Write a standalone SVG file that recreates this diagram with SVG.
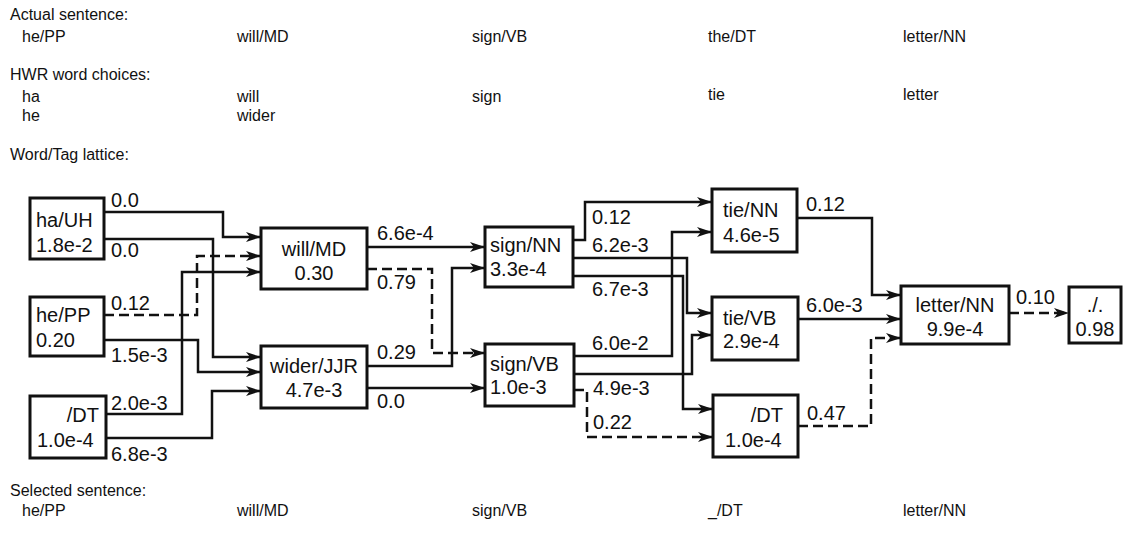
<svg xmlns="http://www.w3.org/2000/svg" width="1131" height="546" viewBox="0 0 1131 546">
<style>
.h{font-family:"Liberation Sans",Arial,sans-serif;font-size:16px;fill:#111}
.n{font-family:"Liberation Sans",Arial,sans-serif;font-size:20px;fill:#111}
.l{font-family:"Liberation Sans",Arial,sans-serif;font-size:20px;fill:#111}
.c{text-anchor:middle}
.e{text-anchor:end}
.box{fill:#fff;stroke:#111;stroke-width:3}
.s{fill:none;stroke:#111;stroke-width:2.5;marker-end:url(#ah)}
.d{fill:none;stroke:#111;stroke-width:2.5;stroke-dasharray:10,5;marker-end:url(#ah)}
</style>
<defs>
<marker id="ah" markerUnits="userSpaceOnUse" markerWidth="16" markerHeight="10" refX="15" refY="5" orient="auto">
<path d="M0,0 L15,5 L0,10 L4,5 z" fill="#111"/>
</marker>
</defs>
<rect width="1131" height="546" fill="#fff"/>
<g id="header">
<text class="h" x="10" y="20">Actual sentence:</text>
<text class="h" x="22" y="42">he/PP</text>
<text class="h" x="237" y="42">will/MD</text>
<text class="h" x="472" y="42">sign/VB</text>
<text class="h" x="708" y="42">the/DT</text>
<text class="h" x="903" y="42">letter/NN</text>
<text class="h" x="10" y="80">HWR word choices:</text>
<text class="h" x="22" y="102">ha</text>
<text class="h" x="22" y="121">he</text>
<text class="h" x="237" y="102">will</text>
<text class="h" x="237" y="121">wider</text>
<text class="h" x="472" y="102">sign</text>
<text class="h" x="708" y="100">tie</text>
<text class="h" x="903" y="100">letter</text>
<text class="h" x="10" y="160">Word/Tag lattice:</text>
<text class="h" x="10" y="496">Selected sentence:</text>
<text class="h" x="22" y="516">he/PP</text>
<text class="h" x="237" y="516">will/MD</text>
<text class="h" x="472" y="516">sign/VB</text>
<text class="h" x="708" y="516">_/DT</text>
<text class="h" x="903" y="516">letter/NN</text>
</g>
<g id="connectors">
<path class="s" d="M104,212 H223 V237 H261"/>
<path class="s" d="M104,239 H213 V357 H261"/>
<path class="d" d="M104,315 H197 V256 H261"/>
<path class="s" d="M104,340 H198 V372 H261"/>
<path class="s" d="M106,414 H182 V272 H261"/>
<path class="s" d="M106,438 H212 V391 H261"/>
<path class="s" d="M367,247 H485"/>
<path class="d" d="M367,269 H432 V353 H485"/>
<path class="s" d="M367,366 H452 V268 H485"/>
<path class="s" d="M367,388 H485"/>
<path class="s" d="M573,240 H585 V202 H712"/>
<path class="s" d="M573,258 H687 V313 H712"/>
<path class="s" d="M573,276 H683 V409 H713"/>
<path class="s" d="M574,356 H672 V232 H712"/>
<path class="s" d="M574,374 H692 V335 H712"/>
<path class="d" d="M574,390 H587 V437 H713"/>
<path class="s" d="M797,218 H872 V295 H901"/>
<path class="s" d="M798,319 H901"/>
<path class="d" d="M798,426 H871 V338 H901"/>
<path class="d" d="M1009,313 H1069"/>
<text class="l" x="111" y="207">0.0</text>
<text class="l" x="111" y="257">0.0</text>
<text class="l" x="111" y="310">0.12</text>
<text class="l" x="111" y="362">1.5e-3</text>
<text class="l" x="111" y="410">2.0e-3</text>
<text class="l" x="111" y="461">6.8e-3</text>
<text class="l" x="377" y="240">6.6e-4</text>
<text class="l" x="377" y="289">0.79</text>
<text class="l" x="377" y="359">0.29</text>
<text class="l" x="377" y="408">0.0</text>
<text class="l" x="592" y="224">0.12</text>
<text class="l" x="592" y="252">6.2e-3</text>
<text class="l" x="592" y="296">6.7e-3</text>
<text class="l" x="592" y="350">6.0e-2</text>
<text class="l" x="593" y="395">4.9e-3</text>
<text class="l" x="593" y="429">0.22</text>
<text class="l" x="806" y="211">0.12</text>
<text class="l" x="806" y="312">6.0e-3</text>
<text class="l" x="807" y="420">0.47</text>
<text class="l" x="1016" y="304">0.10</text>
</g>
<g id="n_ha_UH"><rect class="box" x="30" y="198" width="74" height="61"/><text class="n" x="36" y="227">ha/UH</text><text class="n" x="36" y="252">1.8e-2</text></g>
<g id="n_he_PP"><rect class="box" x="30" y="297" width="74" height="59"/><text class="n" x="36" y="322">he/PP</text><text class="n" x="36" y="347">0.20</text></g>
<g id="n_DT1"><rect class="box" x="30" y="396" width="76" height="62"/><text class="n e" x="99" y="422">/DT</text><text class="n" x="37" y="447">1.0e-4</text></g>
<g id="n_will_MD"><rect class="box" x="261" y="228" width="106" height="61"/><text class="n c" x="314" y="256">will/MD</text><text class="n c" x="314" y="280">0.30</text></g>
<g id="n_wider_JJR"><rect class="box" x="261" y="346" width="106" height="62"/><text class="n c" x="314" y="373">wider/JJR</text><text class="n c" x="314" y="397">4.7e-3</text></g>
<g id="n_sign_NN"><rect class="box" x="485" y="227" width="88" height="60"/><text class="n" x="490" y="252">sign/NN</text><text class="n" x="490" y="276">3.3e-4</text></g>
<g id="n_sign_VB"><rect class="box" x="485" y="344" width="89" height="62"/><text class="n" x="490" y="371">sign/VB</text><text class="n" x="490" y="394">1.0e-3</text></g>
<g id="n_tie_NN"><rect class="box" x="712" y="189" width="85" height="63"/><text class="n" x="723" y="217">tie/NN</text><text class="n" x="723" y="242">4.6e-5</text></g>
<g id="n_tie_VB"><rect class="box" x="712" y="297" width="86" height="63"/><text class="n" x="723" y="325">tie/VB</text><text class="n" x="723" y="348">2.9e-4</text></g>
<g id="n_DT2"><rect class="box" x="713" y="395" width="85" height="62"/><text class="n e" x="783" y="422">/DT</text><text class="n" x="725" y="447">1.0e-4</text></g>
<g id="n_letter_NN"><rect class="box" x="901" y="286" width="108" height="58"/><text class="n c" x="955" y="312">letter/NN</text><text class="n c" x="955" y="336">9.9e-4</text></g>
<g id="n_period"><rect class="box" x="1069" y="287" width="52" height="56"/><text class="n c" x="1095" y="312">./.</text><text class="n c" x="1095" y="336">0.98</text></g>
</svg>
